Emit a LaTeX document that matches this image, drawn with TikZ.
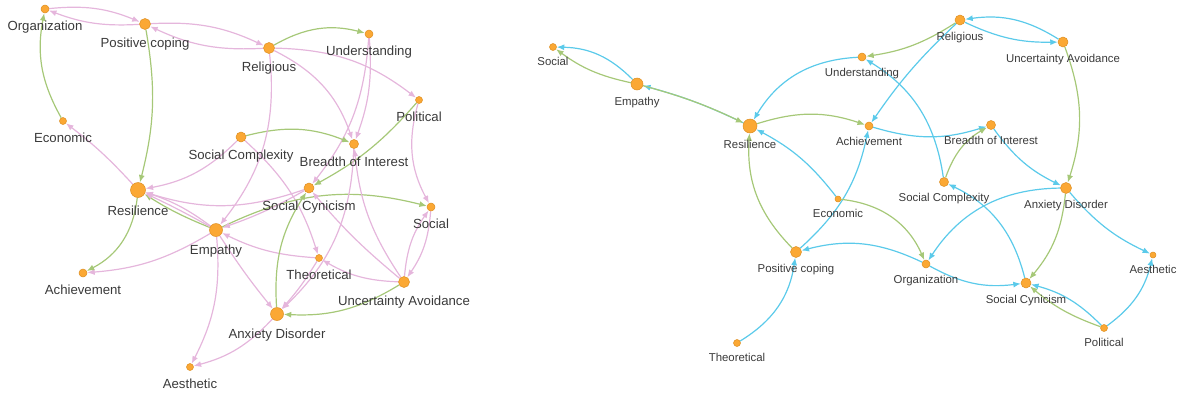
\documentclass[tikz,border=0pt]{standalone}
\usepackage{fontspec}
\setmainfont{Liberation Sans}
\usepackage{xcolor}
\usetikzlibrary{arrows.meta}
\pgfdeclarelayer{bg}
\pgfsetlayers{bg,main}
\definecolor{nodeor}{HTML}{FBA834}
\definecolor{nodeed}{HTML}{DD8E22}
\definecolor{pinkln}{HTML}{E5B6DC}
\definecolor{greenln}{HTML}{A6C878}
\definecolor{blueln}{HTML}{5BCAEA}
\definecolor{labtxt}{HTML}{3A3A3A}
\tikzset{
  vert/.style={circle, fill=nodeor, draw=nodeed, line width=0.5pt, inner sep=0pt, minimum size=#1},
  labl/.style={text=labtxt, font=\fontsize{13.2}{15}\selectfont, inner sep=0pt},
  labr/.style={text=labtxt, font=\fontsize{11.4}{13}\selectfont, inner sep=0pt},
  lnk/.style={line width=1.2pt, -{Latex[length=7.5pt,width=6pt]}},
  pk/.style={lnk, draw=pinkln},
  gn/.style={lnk, draw=greenln},
  bu/.style={lnk, draw=blueln}
}

\begin{document}
\begin{tikzpicture}[x=1pt, y=-1pt]
\useasboundingbox (0,0) rectangle (1182,394);

% left network
\begin{scope}[label distance=7.5pt]
\node [vert=8,  label={[labl]below:Organization}]          (lorg) at (45,9) {};
\node [vert=11, label={[labl]below:Positive coping}]       (lpos) at (145,24) {};
\node [vert=11, label={[labl]below:Religious}]             (lrel) at (269,48) {};
\node [vert=8,  label={[labl]below:Understanding}]         (lund) at (369,34) {};
\node [vert=7,  label={[labl]below:Political}]             (lpol) at (419,100) {};
\node [vert=7,  label={[labl]below:Economic}]              (leco) at (63,121) {};
\node [vert=10, label={[labl]below:Social Complexity}]     (lsco) at (241,137) {};
\node [vert=9,  label={[labl]below:Breadth of Interest}]   (lboi) at (354,144) {};
\node [vert=15, label={[labl]below:Resilience}]            (lres) at (138,190) {};
\node [vert=10, label={[labl]below:Social Cynicism}]       (lscy) at (309,188) {};
\node [vert=8,  label={[labl]below:Social}]                (lsol) at (431,207) {};
\node [vert=13, label={[labl]below:Empathy}]               (lemp) at (216,230) {};
\node [vert=8,  label={[labl]below:Achievement}]           (lach) at (83,273) {};
\node [vert=7,  label={[labl]below:Theoretical}]           (lthe) at (319,258) {};
\node [vert=11, label={[labl]below:Uncertainty Avoidance}] (luav) at (404,282) {};
\node [vert=13, label={[labl]below:Anxiety Disorder}]      (lanx) at (277,314) {};
\node [vert=7,  label={[labl]below:Aesthetic}]             (laes) at (190,367) {};
\end{scope}

% right network
\begin{scope}[label distance=6.5pt]
\node [vert=7,  label={[labr]below:Social}]                (rsol) at (553,47) {};
\node [vert=12, label={[labr]below:Empathy}]               (remp) at (637,84) {};
\node [vert=14, label={[labr]below:Resilience}]            (rres) at (750,126) {};
\node [vert=8,  label={[labr]below:Understanding}]         (rund) at (862,57) {};
\node [vert=10, label={[labr]below:Religious}]             (rrel) at (960,20) {};
\node [vert=10, label={[labr]below:Uncertainty Avoidance}] (ruav) at (1063,42) {};
\node [vert=8,  label={[labr]below:Achievement}]           (rach) at (869,126) {};
\node [vert=9,  label={[labr]below:Breadth of Interest}]   (rboi) at (991,125) {};
\node [vert=9,  label={[labr]below:Social Complexity}]     (rsco) at (944,182) {};
\node [vert=11, label={[labr]below:Anxiety Disorder}]      (ranx) at (1066,188) {};
\node [vert=6,  label={[labr]below:Economic}]              (reco) at (838,199) {};
\node [vert=11, label={[labr]below:Positive coping}]       (rpos) at (796,252) {};
\node [vert=8,  label={[labr]below:Organization}]          (rorg) at (926,264) {};
\node [vert=10, label={[labr]below:Social Cynicism}]       (rscy) at (1026,283) {};
\node [vert=6,  label={[labr]below:Aesthetic}]             (raes) at (1153,255) {};
\node [vert=7,  label={[labr]below:Political}]             (rpol) at (1104,328) {};
\node [vert=7,  label={[labr]below:Theoretical}]           (rthe) at (737,343) {};
\end{scope}

\begin{pgfonlayer}{bg}
% left links
\draw [pk] (lorg) to [bend left=14] (lpos);
\draw [pk] (lpos) to [bend left=12] (lorg);
\draw [pk] (lpos) to [bend left=14] (lrel);
\draw [pk] (lrel) to [bend left=14] (lpos);
\draw [gn] (lrel) to [bend left=22] (lund);
\draw [gn] (leco) to [bend left=20] (lorg);
\draw [gn] (lpos) to [bend left=12] (lres);
\draw [pk] (lres) to [bend right=5] (leco);
\draw [pk] (lrel) to [bend left=18] (lpol);
\draw [pk] (lrel) to [bend left=22] (lboi);
\draw [pk] (lund) to [bend left=12] (lboi);
\draw [pk] (lund) to [bend left=17] (lscy);
\draw [gn] (lsco) to [bend left=18] (lboi);
\draw [pk] (lsco) to [bend left=17] (lres);
\draw [gn] (lpol) to [bend left=10] (lscy);
\draw [pk] (lrel) to [bend left=22] (lemp);
\draw [pk] (lsco) to [bend left=15] (lthe);
\draw [gn] (lemp) to [bend left=20] (lsol);
\draw [pk] (lscy) to [bend left=18] (lres);
\draw [pk] (lscy) to [bend left=5] (lemp);
\draw [gn] (lemp) to [bend left=5] (lres);
\draw [pk] (lemp) to [bend right=2] (lres);
\draw [pk] (lemp) to [bend right=9] (lres);
\draw [pk] (lemp) to [bend left=13] (lach);
\draw [gn] (lres) to [bend left=28] (lach);
\draw [pk] (lemp) to [bend right=3] (lanx);
\draw [pk] (lemp) to [bend left=16] (laes);
\draw [pk] (lanx) to [bend left=16] (laes);
\draw [pk] (lthe) to [bend left=11] (lemp);
\draw [pk] (lthe) to [bend left=5] (lanx);
\draw [pk] (lboi) to [bend left=22] (lanx);
\draw [gn] (lanx) to [bend left=18] (lscy);
\draw [gn] (luav) to [bend left=17] (lanx);
\draw [pk] (luav) to [bend left=14] (lthe);
\draw [pk] (luav) to [bend left=5] (lscy);
\draw [pk] (luav) to [bend left=14] (lboi);
\draw [pk] (luav) to [bend left=15] (lsol);
\draw [pk] (lsol) to [bend left=15] (luav);
\draw [pk] (lpol) to [bend right=22] (lsol);

% right links
\draw [bu] (remp) to [bend right=22] (rsol);
\draw [gn] (remp) to [bend left=12] (rsol);
\draw [bu] (rres) to [bend right=5] (remp);
\draw [gn] (remp) to [bend left=5] (rres);
\draw [bu] (rund) to [bend right=28] (rres);
\draw [gn] (rres) to [bend left=18] (rach);
\draw [bu] (reco) to [bend right=12] (rres);
\draw [gn] (rpos) to [bend left=24] (rres);
\draw [gn] (rrel) to [bend left=12] (rund);
\draw [bu] (rrel) to [bend right=13] (ruav);
\draw [bu] (ruav) to [bend right=20] (rrel);
\draw [bu] (rrel) to [bend right=6] (rach);
\draw [bu] (rach) to [bend right=17] (rboi);
\draw [gn] (rsco) to [bend left=20] (rboi);
\draw [bu] (rsco) to [bend right=25] (rund);
\draw [bu] (rboi) to [bend right=14] (ranx);
\draw [gn] (ruav) to [bend left=19] (ranx);
\draw [bu] (rpos) to [bend right=18] (rach);
\draw [gn] (reco) to [bend left=30] (rorg);
\draw [bu] (rorg) to [bend right=20] (rpos);
\draw [bu] (rorg) to [bend right=18] (rscy);
\draw [bu] (ranx) to [bend right=28] (rorg);
\draw [gn] (ranx) to [bend left=17] (rscy);
\draw [bu] (ranx) to [bend right=12] (raes);
\draw [bu] (rscy) to [bend right=25] (rsco);
\draw [gn] (rpol) to [bend left=10] (rscy);
\draw [bu] (rpol) to [bend right=15] (rscy);
\draw [bu] (rpol) to [bend right=20] (raes);
\draw [bu] (rthe) to [bend right=25] (rpos);
\end{pgfonlayer}
\end{tikzpicture}
\end{document}
